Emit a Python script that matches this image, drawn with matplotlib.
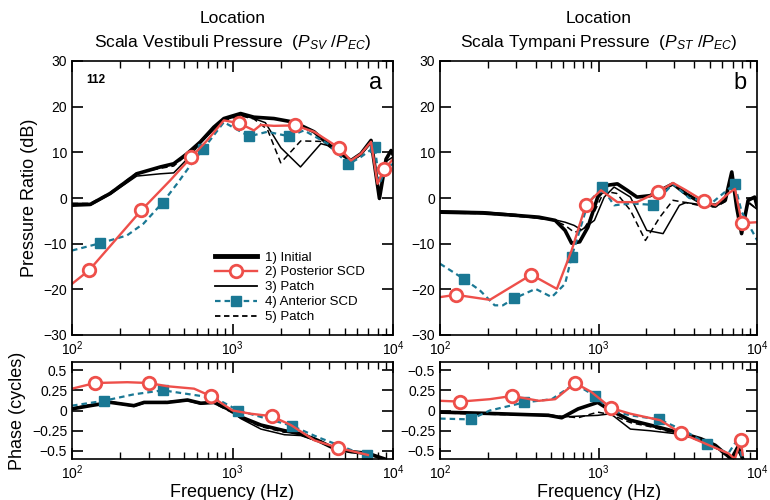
import matplotlib
matplotlib.use('Agg')
import matplotlib.pyplot as plt
from matplotlib.lines import Line2D
import numpy as np

plt.rcParams['font.family'] = ['Liberation Sans Narrow', 'Liberation Sans', 'DejaVu Sans']
plt.rcParams['mathtext.fontset'] = 'custom'
plt.rcParams['mathtext.rm'] = 'Liberation Sans'
plt.rcParams['mathtext.it'] = 'Liberation Sans:italic'

RED = '#ee4f4a'
TEAL = '#1a7894'

# ---------------- panel a : scala vestibuli magnitude (dB) ----------------
a_init_f = [100, 130, 173, 253, 355, 430, 521, 631, 764, 883, 1122, 1359, 1811, 2414, 3221, 3906, 4732, 5465, 6310, 7289, 8222, 9039, 9716, 10000]
a_init_db = [-1.4, -1.4, 1.0, 5.3, 6.8, 7.5, 9.7, 12.3, 15.5, 17.4, 18.5, 17.7, 17.4, 16.6, 14.5, 11.9, 9.7, 8.2, 9.7, 12.6, -0.1, 8.5, 10.4, 9.5]

a_p3_f = [100, 130, 173, 253, 355, 430, 521, 631, 764, 883, 1122, 1359, 1600, 2000, 2650, 3550, 3906, 4732, 5465, 6310, 7289, 8222, 9039, 10000]
a_p3_db = [-1.8, -1.6, 0.8, 4.8, 5.3, 5.5, 8.5, 12.0, 15.0, 17.0, 18.2, 17.4, 16.5, 11.0, 6.8, 11.9, 11.5, 9.5, 8.0, 9.5, 12.0, 0.5, 8.0, 9.0]

a_p5_f = [100, 130, 173, 253, 355, 430, 521, 631, 764, 883, 1122, 1359, 1650, 1995, 2660, 3500, 3906, 4732, 5465, 6310, 7289, 8222, 9039, 10000]
a_p5_db = [-1.2, -1.2, 1.2, 5.5, 6.5, 7.0, 9.5, 12.5, 15.5, 17.0, 18.0, 17.3, 15.0, 7.7, 12.5, 12.4, 11.9, 9.7, 8.0, 9.5, 12.8, 0.0, 8.5, 10.0]

a_post_f = [100, 128, 270, 410, 555, 694, 883, 1093, 1359, 1500, 1811, 2450, 3221, 4600, 5465, 6310, 7289, 8000, 8800, 10000]
a_post_db = [-18.8, -15.8, -2.7, 3.9, 9.0, 12.6, 17.0, 16.4, 14.8, 16.0, 15.8, 15.9, 14.5, 11.0, 8.2, 9.7, 12.3, 3.1, 6.3, 8.5]
a_post_mk_f = [128, 270, 555, 1093, 2450, 4600, 8800]
a_post_mk_db = [-15.8, -2.7, 9.0, 16.4, 15.9, 11.0, 6.3]

a_ant_f = [100, 150, 220, 279, 367, 451, 574, 656, 883, 1270, 1648, 2260, 2786, 3906, 5270, 6310, 7700, 8222, 9039, 10000]
a_ant_db = [-11.5, -9.9, -8.2, -5.6, -1.0, 3.1, 8.2, 10.7, 16.6, 13.5, 14.5, 13.5, 14.8, 11.9, 7.4, 9.0, 11.2, 3.1, 6.5, 7.5]
a_ant_mk_f = [150, 367, 656, 1270, 2260, 5270, 7700]
a_ant_mk_db = [-9.9, -1.0, 10.7, 13.5, 13.5, 7.4, 11.2]

# ---------------- panel b : scala tympani magnitude (dB) ----------------
b_init_f = [100, 187, 300, 420, 532, 614, 675, 759, 855, 986, 1138, 1312, 1511, 1743, 2107, 2939, 3553, 4508, 5449, 6281, 6904, 7413, 7962, 8753, 9630, 10000]
b_init_db = [-3.1, -3.3, -3.8, -4.2, -4.9, -7.1, -9.9, -9.6, -6.4, 0.2, 2.8, 3.1, 1.7, 0.2, 0.5, 3.1, 0.9, -1.2, -1.6, -0.5, 5.7, -2.0, -7.8, -0.5, 0.2, -2.0]

b_p3_f = [100, 187, 300, 420, 532, 614, 700, 780, 940, 1084, 1250, 1585, 2010, 2547, 3228, 3553, 4508, 5449, 6281, 6904, 7413, 7962, 8753, 10000]
b_p3_db = [-2.8, -3.0, -3.6, -4.5, -4.8, -5.3, -6.0, -7.0, -4.9, 0.2, 2.4, 0.2, -7.1, -7.8, -1.6, -1.0, -1.5, -1.8, -0.5, 4.8, -1.5, -6.5, -1.0, -2.5]

b_p5_f = [100, 187, 300, 420, 532, 614, 700, 800, 940, 1084, 1300, 1585, 1970, 2430, 2939, 3553, 4508, 5449, 6281, 6904, 7413, 7962, 8753, 10000]
b_p5_db = [-3.3, -3.4, -4.0, -4.4, -5.0, -6.0, -7.5, -7.0, -3.0, 1.5, 1.0, -2.7, -9.3, -4.2, -0.5, -1.0, -1.8, -2.0, -0.8, 5.0, -2.0, -7.0, -0.8, -2.5]

b_post_f = [100, 126, 206, 376, 545, 675, 830, 1034, 1312, 1743, 2360, 2939, 3553, 4610, 5449, 6575, 7230, 8000, 10000]
b_post_db = [-21.7, -21.2, -22.3, -16.8, -19.9, -11.5, -1.5, 1.7, -0.9, -0.9, 1.3, 3.3, 1.7, -0.7, -1.6, 1.0, 2.0, -5.5, -5.3]
b_post_mk_f = [126, 376, 830, 2360, 4610, 8000]
b_post_mk_db = [-21.2, -16.8, -1.5, 1.3, -0.7, -5.5]

b_ant_f = [100, 141, 178, 221, 249, 293, 400, 506, 614, 675, 855, 1050, 1252, 1585, 2200, 2939, 3720, 5200, 7200, 7962, 10000]
b_ant_db = [-14.4, -17.7, -20.2, -23.5, -23.5, -22.0, -19.9, -21.7, -18.8, -12.9, -1.2, 2.3, -1.6, -1.2, -1.5, 3.1, 0.0, -1.0, 3.1, -3.0, -9.3]
b_ant_mk_f = [141, 293, 675, 1050, 2200, 7200]
b_ant_mk_db = [-17.7, -22.0, -12.9, 2.3, -1.5, 3.1]

# ---------------- phase panels (cycles) ----------------
pa_init_f = [100, 130, 174, 243, 281, 392, 524, 634, 768, 978, 1126, 1503, 2109, 2667, 3396, 4305, 5500, 6970, 8870]
pa_init = [0.02, 0.06, 0.1, 0.06, 0.1, 0.1, 0.13, 0.09, 0.1, 0.0, -0.08, -0.18, -0.25, -0.29, -0.37, -0.47, -0.51, -0.53, -0.6]
pa_p3 = [0.03, 0.07, 0.1, 0.05, 0.09, 0.1, 0.12, 0.08, 0.1, 0.0, -0.1, -0.23, -0.3, -0.31, -0.38, -0.47, -0.5, -0.55, -0.6]
pa_p5 = [0.02, 0.07, 0.11, 0.06, 0.1, 0.11, 0.13, 0.09, 0.09, -0.02, -0.09, -0.2, -0.27, -0.27, -0.36, -0.46, -0.51, -0.54, -0.6]

pa_post_f = [100, 139, 221, 302, 392, 576, 730, 1000, 1300, 1750, 2310, 3240, 4520, 5750, 6970]
pa_post = [0.27, 0.34, 0.35, 0.34, 0.3, 0.27, 0.18, 0.0, -0.04, -0.07, -0.18, -0.37, -0.46, -0.51, -0.55]
pa_post_mk_f = [139, 302, 730, 1750, 4520]
pa_post_mk = [0.34, 0.34, 0.18, -0.07, -0.46]

pa_ant_f = [100, 158, 243, 368, 634, 802, 1087, 1503, 2350, 3396, 5500, 6850, 7300]
pa_ant = [0.06, 0.12, 0.2, 0.25, 0.18, 0.14, 0.0, -0.08, -0.19, -0.33, -0.49, -0.55, -0.6]
pa_ant_mk_f = [158, 368, 1087, 2350, 6850]
pa_ant_mk = [0.12, 0.25, 0.0, -0.19, -0.55]

pb_init_f = [100, 237, 483, 585, 742, 986, 1190, 1585, 2107, 3474, 4410, 5430, 6870, 7550, 8100]
pb_init = [-0.02, -0.04, -0.06, -0.09, 0.02, 0.1, 0.0, -0.12, -0.18, -0.29, -0.35, -0.43, -0.6, -0.45, -0.6]
pb_p3 = [-0.03, -0.04, -0.05, -0.08, -0.07, -0.06, -0.04, -0.23, -0.25, -0.3, -0.37, -0.45, -0.6, -0.5, -0.6]
pb_p5 = [-0.03, -0.05, -0.06, -0.07, -0.09, -0.02, -0.05, -0.15, -0.2, -0.31, -0.38, -0.46, -0.6, -0.5, -0.6]

pb_post_f = [100, 134, 206, 284, 420, 532, 710, 898, 1200, 1585, 2440, 3300, 4970, 6570, 7220, 7860, 8100]
pb_post = [0.12, 0.11, 0.14, 0.18, 0.12, 0.14, 0.34, 0.23, 0.03, -0.04, -0.12, -0.28, -0.43, -0.53, -0.6, -0.37, -0.55]
pb_post_mk_f = [134, 284, 710, 1200, 3300, 7860]
pb_post_mk = [0.11, 0.18, 0.34, 0.03, -0.28, -0.37]

pb_ant_f = [100, 156, 206, 340, 506, 706, 950, 1190, 1585, 2400, 3474, 4800, 6570, 7550, 7960]
pb_ant = [-0.1, -0.11, 0.0, 0.1, 0.14, 0.33, 0.18, 0.0, -0.06, -0.11, -0.25, -0.41, -0.53, -0.35, -0.57]
pb_ant_mk_f = [156, 340, 950, 2400, 4800]
pb_ant_mk = [-0.11, 0.1, 0.18, -0.11, -0.41]

db_ticks = [-30, -20, -10, 0, 10, 20, 30]
phase_ticks = [0.5, 0.25, 0, -0.25, -0.5]
phase_a_labels = ['0.5', '0.25', '0', '\u22120.25', '\u22120.5']
phase_b_labels = ['\u22120.5', '0.25', '0', '\u22120.25', '\u22120.5']


def draw(ax, init, p3, p5, post, post_mk, ant, ant_mk):
    ax.plot(*p5, color='black', lw=1.1, ls=(0, (4, 2.5)))
    ax.plot(*p3, color='black', lw=1.1)
    ax.plot(*init, color='black', lw=2.6)
    ax.plot(*ant, color=TEAL, lw=1.6, ls=(0, (2.5, 1.8)))
    ax.plot(*ant_mk, ls='none', marker='s', ms=7, color=TEAL)
    ax.plot(*post, color=RED, lw=1.7)
    ax.plot(*post_mk, ls='none', marker='o', ms=9, mfc='white', mec=RED, mew=2)


def style(ax):
    ax.set_xscale('log')
    ax.set_xlim(100, 10000)
    ax.tick_params(which='both', direction='in', top=True, right=True, labelsize=10)
    ax.tick_params(which='major', length=8, width=1.2)
    ax.tick_params(which='minor', length=5, width=1.0)
    for s in ax.spines.values():
        s.set_linewidth(1.2)


fig = plt.figure(figsize=(7.7, 5.0), dpi=100)
ax_a = fig.add_axes([0.0935, 0.33, 0.417, 0.548])
ax_b = fig.add_axes([0.5715, 0.33, 0.412, 0.548])
ax_pa = fig.add_axes([0.0935, 0.082, 0.417, 0.194])
ax_pb = fig.add_axes([0.5715, 0.082, 0.412, 0.194])

draw(ax_a, (a_init_f, a_init_db), (a_p3_f, a_p3_db), (a_p5_f, a_p5_db),
     (a_post_f, a_post_db), (a_post_mk_f, a_post_mk_db), (a_ant_f, a_ant_db), (a_ant_mk_f, a_ant_mk_db))
draw(ax_b, (b_init_f, b_init_db), (b_p3_f, b_p3_db), (b_p5_f, b_p5_db),
     (b_post_f, b_post_db), (b_post_mk_f, b_post_mk_db), (b_ant_f, b_ant_db), (b_ant_mk_f, b_ant_mk_db))
draw(ax_pa, (pa_init_f, pa_init), (pa_init_f, pa_p3), (pa_init_f, pa_p5),
     (pa_post_f, pa_post), (pa_post_mk_f, pa_post_mk), (pa_ant_f, pa_ant), (pa_ant_mk_f, pa_ant_mk))
draw(ax_pb, (pb_init_f, pb_init), (pb_init_f, pb_p3), (pb_init_f, pb_p5),
     (pb_post_f, pb_post), (pb_post_mk_f, pb_post_mk), (pb_ant_f, pb_ant), (pb_ant_mk_f, pb_ant_mk))

for ax in (ax_a, ax_b):
    style(ax)
    ax.set_ylim(-30, 30)
    ax.set_yticks(db_ticks)
for ax, labs in ((ax_pa, phase_a_labels), (ax_pb, phase_b_labels)):
    style(ax)
    ax.set_ylim(-0.6, 0.6)
    ax.set_yticks(phase_ticks)
    ax.set_yticklabels(labs)
    ax.set_xlabel('Frequency (Hz)', fontsize=13, labelpad=1)

ax_a.set_ylabel('Pressure Ratio (dB)', fontsize=13, labelpad=4)
ax_pa.set_ylabel('Phase (cycles)', fontsize=13, labelpad=4)

ax_a.text(0.045, 0.93, '112', transform=ax_a.transAxes, fontsize=8.5, fontweight='bold', va='center')
ax_a.text(0.965, 0.92, 'a', transform=ax_a.transAxes, fontsize=17, ha='right', va='center')
ax_b.text(0.965, 0.92, 'b', transform=ax_b.transAxes, fontsize=17, ha='right', va='center')

fig.text(0.302, 0.963, 'Location', ha='center', va='center', fontsize=12.5)
fig.text(0.302, 0.915, r'Scala Vestibuli Pressure  ($P_{SV}$ /$P_{EC}$)', ha='center', va='center', fontsize=12.5)
fig.text(0.778, 0.963, 'Location', ha='center', va='center', fontsize=12.5)
fig.text(0.778, 0.915, r'Scala Tympani Pressure  ($P_{ST}$ /$P_{EC}$)', ha='center', va='center', fontsize=12.5)

handles = [
    Line2D([], [], color='black', lw=3.5),
    Line2D([], [], color=RED, lw=1.7, marker='o', ms=9, mfc='white', mec=RED, mew=2),
    Line2D([], [], color='black', lw=1.3),
    Line2D([], [], color=TEAL, lw=1.6, ls=(0, (2.5, 1.8)), marker='s', ms=7),
    Line2D([], [], color='black', lw=1.3, ls=(0, (3, 2))),
]
labels = ['1) Initial', '2) Posterior SCD', '3) Patch', '4) Anterior SCD', '5) Patch']
ax_a.legend(handles, labels, loc='lower right', bbox_to_anchor=(0.95, 0.0), frameon=False,
            fontsize=9.5, handlelength=3.2, labelspacing=0.2, handletextpad=0.6)

fig.savefig('out.png', dpi=100)
